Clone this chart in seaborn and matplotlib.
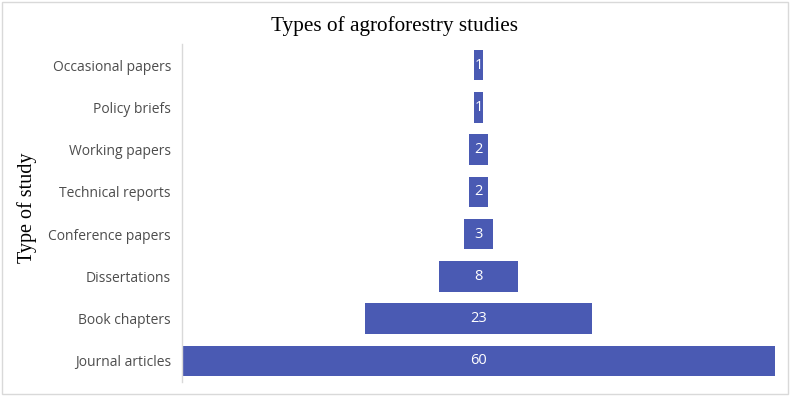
import pandas as pd
import seaborn as sns
import matplotlib.pyplot as plt
from matplotlib.patches import Rectangle

study_types = ['Occasional papers', 'Policy briefs', 'Working papers', 'Technical reports',
               'Conference papers', 'Dissertations', 'Book chapters', 'Journal articles']
counts = [1, 1, 2, 2, 3, 8, 23, 60]

bar_color = '#4a5ab3'

df = pd.DataFrame({'type': study_types, 'count': counts})
# funnel: each bar is drawn as two halves around zero
df['right'] = df['count'] / 2
df['left'] = -df['count'] / 2

sns.set_theme(style='white')
plt.rcParams['font.family'] = ['Open Sans', 'DejaVu Sans']

fig = plt.figure(figsize=(7.9, 3.96), dpi=100)
ax = fig.add_axes([0.2304, 0.0354, 0.7506, 0.8535])

sns.barplot(data=df, x='right', y='type', color=bar_color, saturation=1,
            width=0.72, linewidth=0, ax=ax)
sns.barplot(data=df, x='left', y='type', color=bar_color, saturation=1,
            width=0.72, linewidth=0, ax=ax)

half = max(counts) / 2
ax.set_xlim(-half, half)
ax.set_ylim(len(study_types) - 0.5, -0.5)

for i, v in enumerate(df['count']):
    ax.text(0, i, str(v), ha='center', va='center', color='white', fontsize=10.5)

ax.set_xticks([])
ax.set_xlabel('')
ax.set_ylabel('Type of study', family='Liberation Serif', fontsize=14.5, color='black')
ax.yaxis.set_label_coords(-0.245, 0.515)
ax.tick_params(axis='y', length=0, labelsize=10, labelcolor='#4d4d4d', pad=8)

for side in ['top', 'right', 'bottom']:
    ax.spines[side].set_visible(False)
ax.spines['left'].set_color('#d9d9d9')
ax.spines['left'].set_linewidth(1)

fig.text(0.4994, 0.935, 'Types of agroforestry studies', ha='center', va='center',
         family='Liberation Serif', fontsize=15.3, color='black')

fig.patches.append(Rectangle((0.003, 0.005), 0.994, 0.99, transform=fig.transFigure,
                             fill=False, edgecolor='#d9d9d9', linewidth=1))

fig.savefig('out.png', dpi=100)
